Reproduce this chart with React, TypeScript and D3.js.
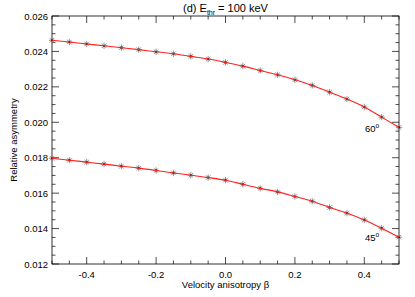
import React from "react";
import * as d3 from "d3";

const betas = [-0.5, -0.45, -0.4, -0.35, -0.3, -0.25, -0.2, -0.15, -0.1, -0.05, 0, 0.05, 0.1, 0.15, 0.2, 0.25, 0.3, 0.35, 0.4, 0.45, 0.5];
const asym60 = [0.02463, 0.02453, 0.02442, 0.02432, 0.02421, 0.0241, 0.02398, 0.02387, 0.02372, 0.02357, 0.02338, 0.02317, 0.02292, 0.02268, 0.0224, 0.02208, 0.0217, 0.02131, 0.02086, 0.02029, 0.01971];
const asym45 = [0.01797, 0.01786, 0.01775, 0.01764, 0.01752, 0.01741, 0.01728, 0.01714, 0.01701, 0.01688, 0.01673, 0.0165, 0.01627, 0.01607, 0.01581, 0.01554, 0.01519, 0.01487, 0.01449, 0.01402, 0.01351];
const seriesLabels = ["60°", "45°"];
const xTicks = [-0.4, -0.2, 0.0, 0.2, 0.4];
const yTicks = [0.012, 0.014, 0.016, 0.018, 0.02, 0.022, 0.024, 0.026];

const W = 415, H = 297;
const L = 52, R = 399, T = 16, B = 264;
const FONT = "'Liberation Sans', Arial, Helvetica, sans-serif";

export default function App() {
  const x = d3.scaleLinear().domain([-0.5, 0.5]).range([L, R]);
  const y = d3.scaleLinear().domain([0.012, 0.026]).range([B, T]);
  const line = d3.line<number>().x((_, i) => x(betas[i])).y((d) => y(d)).curve(d3.curveMonotoneX);

  const xMinor = d3.range(-0.5, 0.5001, 0.05).map((v) => +v.toFixed(2));
  const yMinor = d3.range(0.012, 0.02601, 0.0005).map((v) => +v.toFixed(4));

  const series = [asym60, asym45];
  const star = (cx: number, cy: number, key: string) => {
    const r = 3.2;
    const segs = [0, 45, 90, 135].map((a) => {
      const rad = (a * Math.PI) / 180;
      return (
        <line key={a} x1={cx - r * Math.cos(rad)} y1={cy - r * Math.sin(rad)} x2={cx + r * Math.cos(rad)} y2={cy + r * Math.sin(rad)} stroke="#8a8a8a" strokeWidth={0.9} />
      );
    });
    return (
      <g key={key}>
        {segs}
        <circle cx={cx} cy={cy} r={1.1} fill="#222" />
      </g>
    );
  };

  return (
    <svg width={W} height={H} style={{ position: "absolute", left: 0, top: 0, background: "#fff" }} fontFamily={FONT}>
      <rect x={0} y={0} width={W} height={H} fill="#fff" />
      {/* frame */}
      <rect x={L} y={T} width={R - L} height={B - T} fill="none" stroke="#000" strokeWidth={0.8} />
      {/* x ticks */}
      {xMinor.map((v) => {
        const major = xTicks.some((t) => Math.abs(t - v) < 1e-6);
        const len = major ? 7 : 3.5;
        return (
          <g key={"xt" + v} stroke="#000" strokeWidth={0.7}>
            <line x1={x(v)} x2={x(v)} y1={B} y2={B - len} />
            <line x1={x(v)} x2={x(v)} y1={T} y2={T + len} />
          </g>
        );
      })}
      {yMinor.map((v) => {
        const major = yTicks.some((t) => Math.abs(t - v) < 1e-7);
        const len = major ? 7 : 3.5;
        return (
          <g key={"yt" + v} stroke="#000" strokeWidth={0.7}>
            <line x1={L} x2={L + len} y1={y(v)} y2={y(v)} />
            <line x1={R} x2={R - len} y1={y(v)} y2={y(v)} />
          </g>
        );
      })}
      {xTicks.map((v) => (
        <text key={"xl" + v} x={x(v)} y={B + 14} textAnchor="middle" fontSize={9.5} fill="#000">
          {v.toFixed(1)}
        </text>
      ))}
      {yTicks.map((v) => (
        <text key={"yl" + v} x={L - 4} y={y(v) + 3.5} textAnchor="end" fontSize={9.5} fill="#000">
          {v.toFixed(3)}
        </text>
      ))}
      {/* markers */}
      {series.map((s, si) => s.map((v, i) => star(x(betas[i]), y(v), si + "-" + i)))}
      {/* lines */}
      {series.map((s, si) => (
        <path key={"ln" + si} d={line(s) || ""} fill="none" stroke="#ff2020" strokeWidth={1.1} />
      ))}
      {/* series labels */}
      {series.map((s, si) => (
        <text key={"sl" + si} x={365} y={y(s[s.length - 1]) + (si === 0 ? 5 : 4)} fontSize={9.5} fill="#000">
          {seriesLabels[si].replace("°", "")}
          <tspan dy={-4} fontSize={6.5}>o</tspan>
        </text>
      ))}
      {/* title */}
      <text x={(L + R) / 2} y={12} textAnchor="middle" fontSize={11} fill="#000">
        (d) E<tspan fontSize={7} dy={2.5}>thr</tspan>
        <tspan dy={-2.5}> = 100 keV</tspan>
      </text>
      {/* axis labels */}
      <text x={(L + R) / 2} y={288} textAnchor="middle" fontSize={9.5} fill="#000">
        Velocity anisotropy β
      </text>
      <text transform={`translate(17,${(T + B) / 2}) rotate(-90)`} textAnchor="middle" fontSize={9.5} fill="#000">
        Relative asymmetry
      </text>
    </svg>
  );
}
